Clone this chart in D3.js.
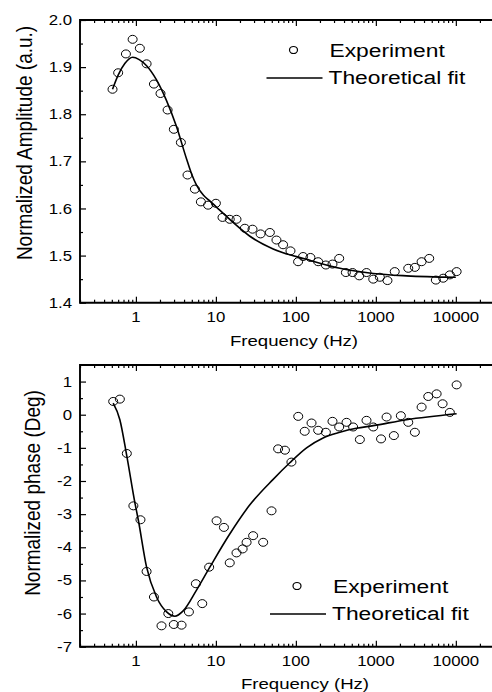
<!DOCTYPE html>
<html>
<head>
<meta charset="utf-8">
<script src="https://cdn.jsdelivr.net/npm/d3@7/dist/d3.min.js"></script>
<style>
    body { margin: 0; background: #fff; }
    text { font-family: "Liberation Sans", Arial, sans-serif; fill: #000; }
</style>
</head>
<body>
<script>
// top panel: normalized amplitude, experiment points
var ampFreq = [0.51, 0.60, 0.75, 0.91, 1.12, 1.36, 1.68, 2.03, 2.49, 2.98, 3.65, 4.42, 5.46, 6.49, 7.99, 10.0,
    12.1, 14.9, 18.1, 23.0, 28.7, 36.2, 47.3, 57.2, 69.2, 85.6, 106.6, 123, 152, 190, 237, 287, 348, 422, 511,
    620, 764, 928, 1122, 1397, 1722, 2542, 3075, 3732, 4647, 5623, 6950, 8414, 10230];
var ampValue = [1.853, 1.888, 1.928, 1.959, 1.940, 1.907, 1.864, 1.844, 1.809, 1.768, 1.740, 1.671, 1.641, 1.614,
    1.607, 1.611, 1.581, 1.577, 1.577, 1.558, 1.556, 1.546, 1.549, 1.533, 1.523, 1.510, 1.487, 1.498, 1.496,
    1.487, 1.480, 1.482, 1.494, 1.464, 1.464, 1.457, 1.464, 1.450, 1.454, 1.447, 1.466, 1.473, 1.475, 1.487,
    1.494, 1.448, 1.452, 1.459, 1.466];

// top panel: theoretical fit
var ampFitFreq = [0.51, 0.60, 0.73, 0.91, 1.1, 1.36, 1.81, 2.4, 3.2, 4.3, 5.0, 5.7, 7.0, 8.4, 10, 16, 26.6, 52,
    136, 355, 928, 2420, 10000];
var ampFitValue = [1.853, 1.883, 1.908, 1.921, 1.916, 1.903, 1.873, 1.830, 1.775, 1.705, 1.672, 1.650, 1.628,
    1.616, 1.604, 1.572, 1.541, 1.514, 1.492, 1.473, 1.462, 1.457, 1.454];

// bottom panel: normalized phase, experiment points
var phaseFreq = [0.52, 0.63, 0.77, 0.93, 1.14, 1.36, 1.68, 2.09, 2.54, 2.98, 3.72, 4.6, 5.62, 6.75, 8.24, 10.2,
    12.6, 14.9, 18.1, 21.6, 24.2, 29.2, 39, 49.6, 60, 73, 88, 107, 129, 157, 190, 237, 287, 348, 430, 520, 631,
    764, 928, 1161, 1362, 1680, 2054, 2542, 3075, 3732, 4520, 5750, 6830, 8414, 10230];
var phaseValue = [0.40, 0.47, -1.17, -2.75, -3.17, -4.73, -5.50, -6.37, -6.0, -6.33, -6.35, -5.95, -5.1, -5.7,
    -4.6, -3.2, -3.4, -4.47, -4.17, -4.05, -3.85, -3.65, -3.85, -2.9, -1.03, -1.07, -1.43, -0.05, -0.5, -0.25,
    -0.47, -0.53, -0.2, -0.37, -0.23, -0.37, -0.75, -0.17, -0.37, -0.73, -0.07, -0.63, -0.03, -0.23, -0.53,
    0.23, 0.55, 0.63, 0.33, 0.07, 0.9];

// bottom panel: theoretical fit
var phaseFitFreq = [0.52, 0.63, 0.77, 0.97, 1.07, 1.36, 1.81, 2.42, 3.07, 3.9, 5.7, 8.4, 14.9, 26, 52, 84, 136,
    219, 355, 570, 928, 2420, 10230];
var phaseFitValue = [0.35, -0.15, -1.25, -2.65, -3.17, -4.6, -5.5, -5.95, -6.08, -5.92, -5.3, -4.6, -3.6,
    -2.75, -1.95, -1.45, -1.0, -0.7, -0.53, -0.41, -0.33, -0.15, 0.03];

// ticks
var freqTicks = [1, 10, 100, 1000, 10000];
var freqTickLabels = ["1", "10", "100", "1000", "10000"];
var ampTicks = [1.4, 1.5, 1.6, 1.7, 1.8, 1.9, 2.0];
var ampMinorTicks = [1.45, 1.55, 1.65, 1.75, 1.85, 1.95];
var phaseTicks = [-7, -6, -5, -4, -3, -2, -1, 0, 1];
var phaseMinorTicks = [-6.5, -5.5, -4.5, -3.5, -2.5, -1.5, -0.5, 0.5];

var legendLabels = ["Experiment", "Theoretical fit"];

var width = 492, height = 692;
var svg = d3.select("body").append("svg")
    .attr("width", width)
    .attr("height", height);

var freqMinor = [];
[0.1, 1, 10, 100, 1000, 10000].forEach(function (dec) {
    for (var m = 2; m <= 9; m++) {
        var v = dec * m;
        if (v >= 0.2 && v <= 30000) freqMinor.push(v);
    }
});

var stretch = 1.2; // text in the picture is a bit wide

function drawPanel(p) {
    var x = d3.scaleLog().domain([0.2, 30000]).range([80, 494]);
    var y = d3.scaleLinear().domain(p.yDomain).range([p.bottom, p.top]);

    var g = svg.append("g");

    function ticks(axisFn, tr, scale, values, size) {
        g.append("g")
            .attr("transform", tr)
            .call(axisFn(scale).tickValues(values).tickSize(size).tickSizeOuter(0).tickFormat(""))
            .call(function (a) {
                a.select(".domain").remove();
                a.selectAll("line").attr("stroke", "#000").attr("stroke-width", 1.2);
            });
    }

    ticks(d3.axisBottom, "translate(0," + p.bottom + ")", x, freqTicks, -6);
    ticks(d3.axisBottom, "translate(0," + p.bottom + ")", x, freqMinor, -3);
    ticks(d3.axisTop, "translate(0," + p.top + ")", x, freqTicks, -6);
    ticks(d3.axisTop, "translate(0," + p.top + ")", x, freqMinor, -3);
    ticks(d3.axisLeft, "translate(80,0)", y, p.yTicks, -6);
    ticks(d3.axisLeft, "translate(80,0)", y, p.yMinor, -3);

    // frame: left, top and bottom (right side runs off the picture)
    var x0 = x.range()[0], x1 = width + 10;
    g.append("path")
        .attr("d", "M" + x1 + "," + p.top + "H" + x0 + "V" + p.bottom + "H" + x1)
        .attr("fill", "none")
        .attr("stroke", "#000")
        .attr("stroke-width", 1.9);

    // tick labels
    g.selectAll(".xl").data(freqTicks).enter().append("text")
        .attr("transform", function (d) {
            return "translate(" + x(d) + "," + (p.bottom + 19) + ") scale(" + stretch + ",1)";
        })
        .attr("text-anchor", "middle")
        .style("font-size", "14px")
        .text(function (d, i) { return freqTickLabels[i]; });

    g.selectAll(".yl").data(p.yTicks).enter().append("text")
        .attr("transform", function (d) {
            return "translate(72," + y(d) + ") scale(" + stretch + ",1)";
        })
        .attr("dy", "0.36em")
        .attr("text-anchor", "end")
        .style("font-size", "14px")
        .text(p.yFormat);

    // axis titles
    g.append("text")
        .attr("transform", "translate(" + p.xTitleX + "," + p.xTitleY + ") scale(" + stretch + ",1)")
        .attr("text-anchor", "middle")
        .style("font-size", "15.5px")
        .text("Frequency (Hz)");

    g.append("text")
        .attr("transform", "translate(" + p.yTitleX + "," + p.yTitleY + ") scale(1.12,1) rotate(-90)")
        .attr("text-anchor", "middle")
        .style("font-size", "19px")
        .text(p.yTitle);

    // fit curve
    var fit = p.fitFreq.map(function (f, i) { return [f, p.fitValue[i]]; });
    g.append("path")
        .datum(fit)
        .attr("fill", "none")
        .attr("stroke", "#000")
        .attr("stroke-width", 1.6)
        .attr("d", d3.line()
            .x(function (d) { return x(d[0]); })
            .y(function (d) { return y(d[1]); })
            .curve(d3.curveMonotoneX));

    // experiment points
    var pts = p.freq.map(function (f, i) { return [f, p.value[i]]; });
    g.selectAll(".pt").data(pts).enter().append("ellipse")
        .attr("cx", function (d) { return x(d[0]); })
        .attr("cy", function (d) { return y(d[1]); })
        .attr("rx", 4.5)
        .attr("ry", 4)
        .attr("fill", "none")
        .attr("stroke", "#000")
        .attr("stroke-width", 1);

    // legend
    g.append("ellipse")
        .attr("cx", p.legX)
        .attr("cy", p.legY)
        .attr("rx", 4)
        .attr("ry", 3.5)
        .attr("fill", "none")
        .attr("stroke", "#000")
        .attr("stroke-width", 1.2);
    g.append("line")
        .attr("x1", p.legX - 27)
        .attr("x2", p.legX + 29)
        .attr("y1", p.legY + 28)
        .attr("y2", p.legY + 28)
        .attr("stroke", "#000")
        .attr("stroke-width", 1.6);
    g.append("text")
        .attr("transform", "translate(" + (p.legX + 36) + "," + (p.legY + 7) + ") scale(1.2,1)")
        .style("font-size", "19px")
        .text(legendLabels[0]);
    g.append("text")
        .attr("transform", "translate(" + (p.legX + 35) + "," + (p.legY + 34) + ") scale(1.2,1)")
        .style("font-size", "19px")
        .text(legendLabels[1]);
}

drawPanel({
    top: 20, bottom: 302.7,
    yDomain: [1.4, 2.0],
    yTicks: ampTicks, yMinor: ampMinorTicks,
    yFormat: d3.format(".1f"),
    yTitle: "Normalized Amplitude (a.u.)",
    yTitleX: 32, yTitleY: 143,
    xTitleX: 294, xTitleY: 346,
    freq: ampFreq, value: ampValue,
    fitFreq: ampFitFreq, fitValue: ampFitValue,
    legX: 293.5, legY: 50
});

drawPanel({
    top: 365, bottom: 646.7,
    yDomain: [-7, 1.5],
    yTicks: phaseTicks, yMinor: phaseMinorTicks,
    yFormat: function (d) { return String(d); },
    yTitle: "Normalized phase (Deg)",
    yTitleX: 40, yTitleY: 493,
    xTitleX: 305, xTitleY: 689,
    freq: phaseFreq, value: phaseValue,
    fitFreq: phaseFitFreq, fitValue: phaseFitValue,
    legX: 297, legY: 586
});
</script>
</body>
</html>
